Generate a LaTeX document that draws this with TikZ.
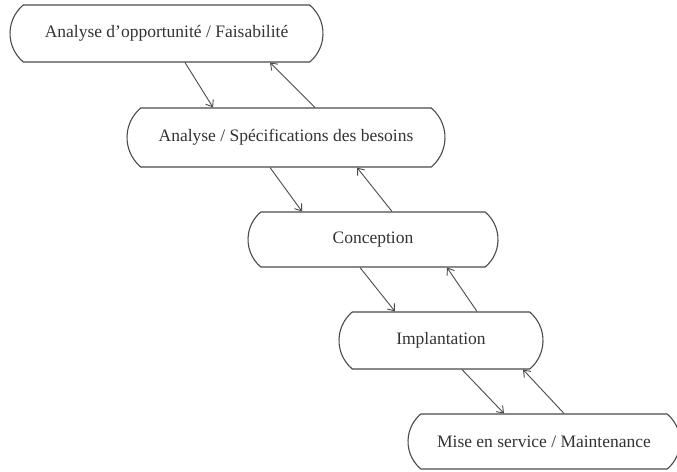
\documentclass[tikz,border=0pt]{standalone}
\usepackage{fontspec}
\setmainfont{Liberation Serif}
\usetikzlibrary{shapes.misc,arrows.meta}
\definecolor{ink}{HTML}{4A4A4A}
\definecolor{txt}{HTML}{333333}
\begin{document}
\begin{tikzpicture}[x=1pt,y=-1pt,
  phase/.style={draw=ink, line width=1.1pt, rounded rectangle,
    rounded rectangle arc length=100, inner sep=0pt,
    text=txt, font=\fontsize{17.5}{20}\selectfont},
  flow/.style={draw=ink, line width=0.9pt,
    -{Straight Barb[length=6pt,width=9pt]}}]
  \useasboundingbox (0,0) rectangle (677,471);
  \clip (0,0) rectangle (677,471);

  % phases of the cascade
  \node[phase, minimum width=313pt, minimum height=57pt] (b1) at (166.5,33.5)
    {Analyse d’opportunité / Faisabilité};
  \node[phase, minimum width=318pt, minimum height=59pt] (b2) at (286,137.5)
    {Analyse / Spécifications des besoins};
  \node[phase, minimum width=250pt, minimum height=55pt] (b3) at (373,239.5)
    {Conception};
  \node[phase, minimum width=204pt, minimum height=57pt] (b4) at (441,340.5)
    {Implantation};
  \node[phase, minimum width=272pt, minimum height=55pt] (b5) at (544,441.5)
    {Mise en service / Maintenance};

  % forward and feedback arrows
  \draw[flow] ([xshift=18.5pt]b1.south) -- ([xshift=-73pt]b2.north);
  \draw[flow] ([xshift=29pt]b2.north) -- ([xshift=103.5pt]b1.south);
  \draw[flow] ([xshift=-16pt]b2.south) -- ([xshift=-71pt]b3.north);
  \draw[flow] ([xshift=19pt]b3.north) -- ([xshift=71pt]b2.south);
  \draw[flow] ([xshift=-13pt]b3.south) -- ([xshift=-46pt]b4.north);
  \draw[flow] ([xshift=36pt]b4.north) -- ([xshift=74pt]b3.south);
  \draw[flow] ([xshift=21pt]b4.south) -- ([xshift=-40pt]b5.north);
  \draw[flow] ([xshift=20pt]b5.north) -- ([xshift=82pt]b4.south);
\end{tikzpicture}
\end{document}
